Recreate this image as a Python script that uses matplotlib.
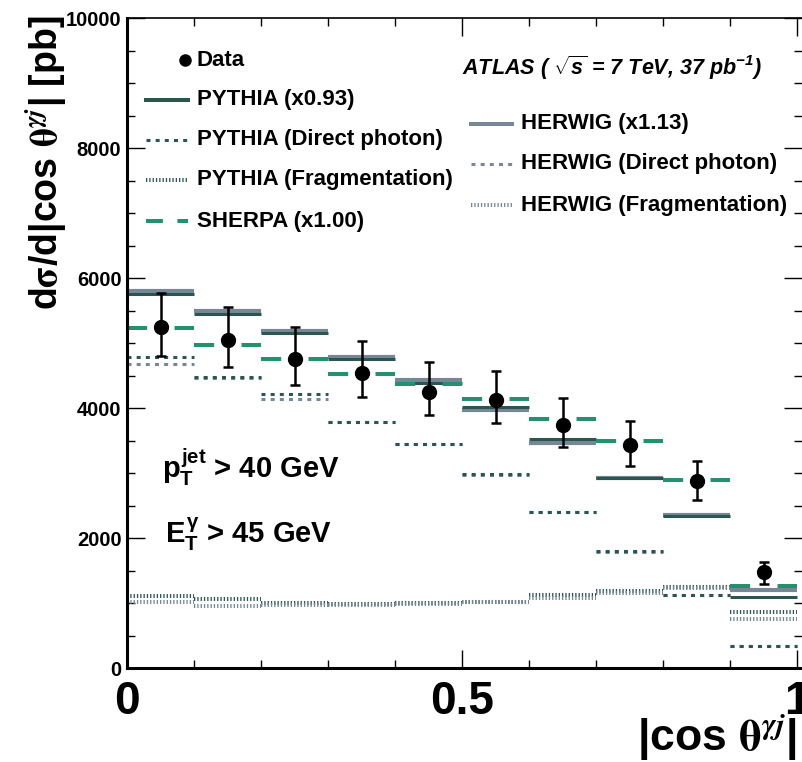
import numpy as np
import matplotlib
matplotlib.use("Agg")
import matplotlib.pyplot as plt
from matplotlib.lines import Line2D

plt.rcParams["font.family"] = ["Liberation Sans", "DejaVu Sans"]
plt.rcParams["font.weight"] = "bold"
plt.rcParams["mathtext.fontset"] = "custom"
plt.rcParams["mathtext.rm"] = "Liberation Sans:bold"
plt.rcParams["mathtext.it"] = "Liberation Sans:bold"
plt.rcParams["mathtext.bf"] = "Liberation Sans:italic:bold"

# bins in |cos theta|
edges = np.round(np.arange(0, 1.01, 0.1), 2)
centers = 0.5 * (edges[:-1] + edges[1:])

data = [5240, 5040, 4750, 4545, 4240, 4130, 3740, 3425, 2875, 1470]
data_up = [524, 509, 491, 486, 473, 444, 414, 375, 310, 166]
data_dn = [440, 414, 396, 371, 348, 356, 340, 322, 296, 183]

pythia = [5760, 5450, 5150, 4750, 4390, 4020, 3520, 2930, 2345, 1085]
herwig = [5800, 5500, 5185, 4790, 4430, 3970, 3455, 2928, 2350, 1200]
sherpa = [5225, 4970, 4755, 4525, 4370, 4140, 3835, 3495, 2890, 1260]
pythia_direct = [4780, 4470, 4210, 3790, 3440, 2980, 2400, 1800, 1130, 345]
herwig_direct = [4672, 4460, 4138, 3780, 3440, 2975, 2395, 1790, 1125, 335]
pythia_frag = [1108, 1056, 995, 990, 995, 1020, 1128, 1180, 1240, 856]
herwig_frag = [1020, 959, 969, 975, 990, 1015, 1072, 1150, 1235, 759]

C_PYT = "#2b5650"
C_HER = "#778796"
C_SHE = "#23906e"

W, H = 802, 762
fig = plt.figure(figsize=(W / 100, H / 100), dpi=100)
ax = fig.add_axes([127 / W, 1 - 668 / H, (W - 127) / W, 650 / H])


def fpx(x, y):
    return x / W, 1 - y / H


DIRECT = (0, (1.3, 1.7))
FRAG = (0, (0.32, 0.5))
SHDASH = (0, (5.0, 6.8))

lo, hi = edges[:-1], edges[1:]
ax.hlines(pythia_frag, lo, hi, colors=C_PYT, linewidth=2.9, linestyles=FRAG)
ax.hlines(herwig_frag, lo, hi, colors=C_HER, linewidth=2.9, linestyles=FRAG)
ax.hlines(herwig_direct, lo, hi, colors=C_HER, linewidth=2.2, linestyles=DIRECT)
ax.hlines(pythia_direct, lo, hi, colors=C_PYT, linewidth=2.2, linestyles=DIRECT)
ax.hlines(herwig, lo, hi, colors=C_HER, linewidth=3.0)
ax.hlines(pythia, lo, hi, colors=C_PYT, linewidth=2.2)
ax.hlines(sherpa, lo, hi, colors=C_SHE, linewidth=2.9, linestyles=SHDASH)

ax.errorbar(centers, data, yerr=[data_dn, data_up], fmt="o", color="black",
            ms=10, elinewidth=1.8, capsize=3.4, capthick=1.8, zorder=5)

ax.set_xlim(0, 1 + 5 / 670)
ax.set_ylim(0, 10000)
ax.set_xticks([0, 0.5, 1])
ax.set_xticklabels(["0", "0.5", "1"])
ax.set_xticks(np.arange(0, 1.01, 0.1), minor=True)
ax.set_yticks(np.arange(0, 10001, 2000))
ax.set_yticks(np.arange(0, 10001, 500), minor=True)
ax.tick_params(which="both", direction="in", top=True, right=True, width=1.0)
ax.tick_params(which="major", length=13)
ax.tick_params(which="minor", length=6)
ax.tick_params(axis="y", labelsize=14.5, pad=4)
ax.tick_params(axis="x", labelsize=33, pad=9)
for lab in ax.get_xticklabels() + ax.get_yticklabels():
    lab.set_weight("bold")

ax.spines["left"].set_linewidth(2.2)
ax.spines["bottom"].set_linewidth(2.2)
ax.spines["top"].set_linewidth(1.2)
ax.spines["right"].set_visible(False)

# axis titles
fig.text(*fpx(46, 15), r"d$\mathrm{\sigma}$/d|cos $\mathrm{\theta}^{\gamma j}$| [pb]", rotation=90,
         ha="center", va="top", fontsize=27, fontweight="bold", math_fontfamily="stix")
fig.text(*fpx(797, 750), r"|cos $\mathrm{\theta}^{\gamma j}$|", ha="right", va="baseline",
         fontsize=32, fontweight="bold", math_fontfamily="stix")

# legend, left column
LFS = 16
fig.add_artist(Line2D([fpx(185, 0)[0]], [fpx(0, 60)[1]], marker="o", color="black", ms=8))
fig.text(*fpx(197, 60), "Data", va="center", fontsize=LFS, fontweight="bold")
left_entries = [
    ("PYTHIA (x0.93)", C_PYT, "-", 2.9, 100),
    ("PYTHIA (Direct photon)", C_PYT, DIRECT, 2.2, 140),
    ("PYTHIA (Fragmentation)", C_PYT, FRAG, 2.9, 180),
    ("SHERPA (x1.00)", C_SHE, (0, (4.2, 3.6)), 2.9, 221),
]
for label, col, ls, lw, y in left_entries:
    (x0, yy), (x1, _) = fpx(146, y), fpx(188, y)
    fig.add_artist(Line2D([x0, x1], [yy, yy], color=col, ls=ls, lw=lw))
    fig.text(*fpx(197, y), label, va="center", fontsize=LFS, fontweight="bold")

# legend, right column
right_entries = [
    ("HERWIG (x1.13)", C_HER, "-", 2.9, 124),
    ("HERWIG (Direct photon)", C_HER, DIRECT, 2.2, 164),
    ("HERWIG (Fragmentation)", C_HER, FRAG, 2.9, 205),
]
for label, col, ls, lw, y in right_entries:
    (x0, yy), (x1, _) = fpx(471, y), fpx(512, y)
    fig.add_artist(Line2D([x0, x1], [yy, yy], color=col, ls=ls, lw=lw))
    fig.text(*fpx(521, y), label, va="center", fontsize=LFS, fontweight="bold")

fig.text(*fpx(462, 68), r"ATLAS ( $\sqrt{\mathbf{s}}$ = 7 TeV, 37 pb$^{\mathbf{-1}}$)",
         va="center", fontsize=15.5, fontweight="bold", fontstyle="italic")

# kinematic cuts
fig.text(*fpx(162, 478), r"$p_T^{jet}$ > 40 GeV", va="baseline", fontsize=21, fontweight="bold")
fig.text(*fpx(165, 543), r"$E_T^{\gamma}$ > 45 GeV", va="baseline", fontsize=21, fontweight="bold")

fig.savefig("out.png", dpi=100)
